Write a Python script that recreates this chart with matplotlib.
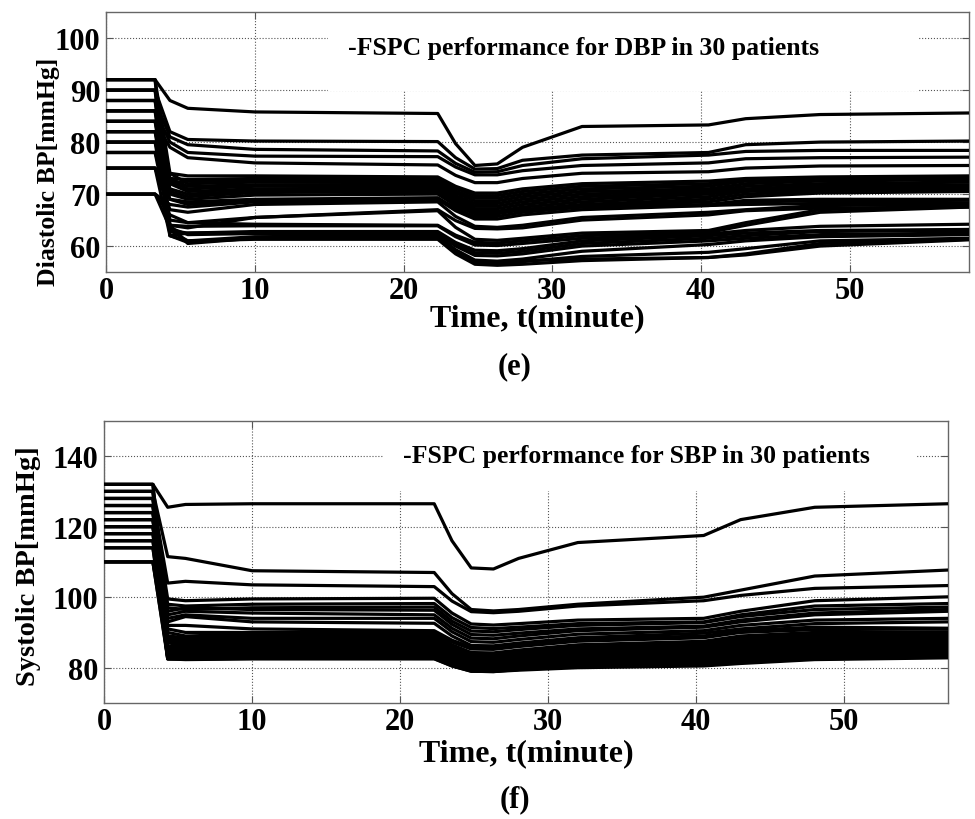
import numpy as np
import matplotlib.pyplot as plt
from matplotlib.patches import Rectangle

plt.rcParams['font.family'] = ['Liberation Serif', 'DejaVu Serif']
plt.rcParams['font.weight'] = 'bold'

# knot times (minutes) shared by every patient curve; the last point is the end of the run
knot_times = [0, 3.3, 4.3, 5.5, 10, 22.3, 23.5, 24.8, 26.3, 28, 32, 40.5, 43, 48]
dbp_end_time = 58
sbp_end_time = 57

# Diastolic BP read at each knot, 30 patients
dbp_start = [92, 90, 88, 86, 84, 82, 80, 78, 92, 90, 88, 86, 84, 82, 80, 75, 78, 70, 75, 70, 78, 84, 82, 80, 75, 70, 90, 92, 86, 88]
dbp_t4 = [88, 82, 81, 80, 79, 74, 73, 72, 74, 73, 72.5, 72, 71, 70.5, 70, 69, 69, 68, 67, 66, 64, 65, 64, 63, 62, 63.5, 62, 62, 63, 64]
dbp_t5 = [86.5, 80.5, 79.5, 78, 77, 73.5, 72.8, 72.5, 72, 71.5, 71, 70.5, 70, 69.5, 69, 68.5, 68, 67.5, 66.5, 64.5, 63.5, 64.5, 63.8, 62.5, 62.5, 62.2, 61, 60.7, 61, 60.5]
dbp_t10 = [85.8, 80.2, 78.6, 77.3, 76, 73.5, 73, 72.6, 72.3, 71.8, 71.5, 71, 70.6, 70.3, 69.8, 69, 68.8, 68.5, 68, 65.5, 65.5, 64.2, 63.9, 62.8, 62.6, 62.4, 61.8, 61.5, 61.3, 61.5]
dbp_t22 = [85.5, 80.1, 78.3, 77.2, 75.6, 73.3, 73, 72.6, 72.2, 71.8, 71.5, 71.2, 70.8, 70.5, 70, 69.3, 69, 68.8, 68.5, 67, 66.8, 64, 63.9, 62.8, 62.6, 62.4, 62, 61.5, 61.3, 61.6]
dbp_t23 = [79.7, 77, 75.9, 75.2, 73.6, 71.5, 71.1, 70.6, 70.2, 69.7, 69.3, 68.9, 68.4, 68.3, 67.8, 67.2, 66.8, 67.5, 65.7, 64.9, 63.6, 62.1, 61.8, 60.7, 60.3, 60, 59.3, 58.8, 58.5, 59]
dbp_t24 = [75.5, 74.8, 74.2, 73.7, 72.2, 70.2, 69.7, 69.2, 68.7, 68.2, 67.7, 67.2, 66.7, 66.7, 66.2, 65.7, 65.2, 66.6, 63.8, 63.4, 61.3, 60.7, 60.2, 59.2, 58.7, 58.2, 57.3, 56.8, 56.5, 57]
dbp_t26 = [75.8, 74.9, 74.3, 73.7, 72.2, 70.2, 69.7, 69.2, 68.7, 68.2, 67.7, 67.2, 66.7, 66.6, 66.2, 65.7, 65.2, 66.6, 63.6, 63.3, 61.1, 60.6, 60.1, 59.1, 58.6, 58.1, 57.1, 56.6, 56.3, 56.9]
dbp_t28 = [79, 76.5, 75.5, 74.5, 73, 71, 70.5, 70, 69.5, 69, 68.5, 68, 67.5, 67, 67, 66.5, 66, 67, 64, 63.5, 61.5, 61, 60.5, 59.5, 59, 58.5, 57.5, 57, 56.5, 57.2]
dbp_t32 = [83, 77.5, 76.8, 75.5, 74, 72, 71.5, 71, 70.5, 70, 69.5, 69, 68.5, 68, 67.8, 67.5, 67, 67.5, 65.5, 65, 62.5, 62, 61.5, 61, 60.5, 60, 59, 58, 57.2, 57.5]
dbp_t40 = [83.3, 78, 77.5, 76, 74.3, 72.5, 72, 71.5, 71, 70.6, 70.3, 70, 69.5, 69, 68.5, 68, 67.8, 67.8, 66.5, 66, 63, 62.6, 62.3, 62, 61.5, 61, 60.3, 58.8, 57.8, 57.8]
dbp_t43 = [84.5, 79.5, 78.2, 76.8, 75, 73, 72.7, 72.5, 72, 71.5, 71, 70.8, 70.5, 70, 69.5, 68.8, 68.5, 68, 67, 66.8, 64.5, 64, 63, 62.5, 62, 61.5, 61, 59.5, 58.5, 58.3]
dbp_t48 = [85.3, 80, 78.4, 77, 75.4, 73.3, 73, 72.8, 72.5, 72, 71.6, 71.2, 71, 70.6, 70.2, 69, 68.7, 68.2, 67.8, 67.3, 67, 66.5, 63.8, 63, 62.8, 62.2, 61.8, 61, 60.5, 60]
dbp_final = [85.6, 80.2, 78.4, 77.1, 75.5, 73.5, 73.2, 73, 72.8, 72.3, 71.8, 71.5, 71.2, 70.8, 70.5, 69, 68.8, 68.3, 68, 67.5, 67.8, 67.5, 64.2, 63.2, 63, 62.5, 62.2, 61.5, 61.3, 61.2]

# Systolic BP read at each knot, 30 patients
sbp_start = [132, 130, 128, 126, 124, 122, 120, 132, 130, 128, 126, 124, 122, 120, 118, 116, 114, 110, 132, 130, 128, 126, 124, 122, 120, 118, 116, 114, 110, 110]
sbp_t4 = [125.5, 111.5, 104, 99.5, 98, 97, 96, 95, 94, 93, 92, 91, 90, 89, 88.5, 88, 87.5, 87, 86, 85.5, 85, 84.5, 84, 83.5, 83, 83, 82.5, 82.5, 82.5, 83]
sbp_t5 = [126.3, 111, 104.5, 99, 97.5, 96.5, 97, 96, 95, 94.5, 92, 90, 89, 88.5, 88, 87.5, 87, 86.5, 86, 85.5, 85, 84.5, 84, 83.5, 83, 82.8, 82.5, 82.5, 82.3, 83]
sbp_t10 = [126.5, 107.5, 103.5, 99.5, 98, 97, 96.5, 95.5, 94, 93, 91, 90, 89.5, 89, 88.5, 88, 87.5, 87, 86.5, 86, 85.5, 85, 84.5, 84, 83.5, 83, 82.7, 82.6, 82.5, 83.5]
sbp_t22 = [126.5, 107, 103, 99.7, 98.2, 97.2, 96.3, 95, 94, 92.6, 90.5, 90, 89.5, 89, 88.7, 88.3, 87.8, 87.3, 86.8, 86.2, 85.7, 85, 84.5, 84, 83.6, 83.2, 82.8, 82.6, 82.5, 84]
sbp_t23 = [116, 101, 98.9, 95.5, 94.2, 93.2, 92.3, 91.2, 90.2, 89, 87.8, 87.3, 86.5, 86, 85.6, 85.1, 84.6, 84.1, 83.6, 83.1, 82.6, 82, 81.8, 81.3, 81.1, 80.9, 80.7, 80.5, 80.5, 81.5]
sbp_t24 = [108.3, 96.5, 95.9, 92.4, 91.4, 90.4, 89.4, 88.4, 87.4, 86.3, 85.8, 85.3, 84.3, 83.8, 83.3, 82.8, 82.3, 81.8, 81.3, 80.8, 80.3, 79.8, 79.8, 79.3, 79.2, 79.2, 79.2, 79, 79, 79.7]
sbp_t26 = [108, 96.1, 95.6, 92.1, 91.1, 90.2, 89.2, 88.2, 87.2, 86.2, 85.7, 85.2, 84.2, 83.7, 83.2, 82.7, 82.2, 81.7, 81.2, 80.7, 80.2, 79.7, 79.7, 79.2, 79.2, 79.1, 79.1, 78.9, 78.9, 79.6]
sbp_t28 = [111, 96.5, 96, 92.5, 91.5, 90.8, 89.8, 89, 88, 87, 86.5, 86, 85, 84.5, 84, 83.5, 83, 82.5, 82, 81.5, 81, 80.5, 80.5, 80, 79.8, 79.5, 79.5, 79.5, 79.3, 80]
sbp_t32 = [115.5, 98, 97.5, 93.5, 92.5, 92, 91, 90.5, 89.5, 88.5, 88, 87.5, 86.5, 86, 85.5, 85, 84.5, 84, 83.5, 83, 82.5, 82, 81.5, 81, 80.8, 80.5, 80.3, 80.5, 80, 81]
sbp_t40 = [117.5, 100, 99, 94, 93, 92.8, 91.8, 91.5, 90.5, 89.8, 89, 88.5, 87.5, 87, 86.5, 86, 85.5, 85, 84.5, 84, 83.5, 83, 82.5, 82, 81.5, 81, 80.8, 81, 80.5, 81.5]
sbp_t43 = [122, 102, 100.5, 96, 95, 94.5, 93.5, 93, 92, 91, 90.5, 90, 89, 88.5, 88, 87.5, 87, 86.5, 86, 85.5, 85, 84.5, 84, 83.5, 83, 82.5, 82, 81.5, 81.2, 82.5]
sbp_t48 = [125.5, 106, 102.5, 99, 97.5, 96.5, 95.5, 95, 93.5, 92.5, 91.5, 90.8, 90, 89.5, 89, 88.5, 88, 87.5, 87, 86.5, 86, 85.5, 85, 84.5, 84, 83.5, 83, 82.5, 82.3, 83.5]
sbp_final = [126.5, 107.7, 103.3, 100.1, 98.2, 97.2, 96.5, 96, 94, 93, 91.2, 91, 90.2, 89.8, 89.3, 88.8, 88.3, 87.8, 87.2, 86.7, 86.2, 85.7, 85.2, 84.6, 84, 83.5, 83.2, 83, 82.8, 84]

dbp_cols = [dbp_start, dbp_start, dbp_t4, dbp_t5, dbp_t10, dbp_t22, dbp_t23, dbp_t24, dbp_t26,
            dbp_t28, dbp_t32, dbp_t40, dbp_t43, dbp_t48, dbp_final]
sbp_cols = [sbp_start, sbp_start, sbp_t4, sbp_t5, sbp_t10, sbp_t22, sbp_t23, sbp_t24, sbp_t26,
            sbp_t28, sbp_t32, sbp_t40, sbp_t43, sbp_t48, sbp_final]


def draw_panel(ax, cols, t_end, ylim, yticks, ylabel, legend_text, box, text_xy, ylabel_xy, xlabel_y):
    times = knot_times + [t_end]
    vals = np.array(cols)
    for i in range(vals.shape[1]):
        ax.plot(times, vals[:, i], color='black', lw=2.3, solid_joinstyle='round', zorder=3)
    ax.set_xlim(0, t_end)
    ax.set_ylim(*ylim)
    ax.set_xticks([0, 10, 20, 30, 40, 50])
    ax.set_yticks(yticks)
    ax.grid(True, linestyle=':', color='#555555', lw=0.8)
    ax.tick_params(direction='in', top=True, right=True, length=5, width=0.8,
                   color='#555555', labelsize=22)
    ax.tick_params(axis='x', pad=3)
    ax.tick_params(axis='y', pad=4)
    for sp in ax.spines.values():
        sp.set_color('#666666')
        sp.set_linewidth(1.0)
    # white area behind the legend text hides the grid there
    ax.add_patch(Rectangle((box[0], box[1]), box[2] - box[0], 1.0 - box[1],
                           transform=ax.transAxes, facecolor='white',
                           edgecolor='none', zorder=2))
    ax.text(text_xy[0], text_xy[1], legend_text, transform=ax.transAxes,
            fontsize=18.5, fontweight='bold', ha='left', va='center', zorder=4)
    ax.set_xlabel('Time, t(minute)', fontsize=23, fontweight='bold', va='center')
    ax.xaxis.set_label_coords(0.5, xlabel_y)
    ax.set_ylabel(ylabel, fontsize=ylabel_xy[2], fontweight='bold', va='center')
    ax.yaxis.set_label_coords(ylabel_xy[0], ylabel_xy[1])


fig = plt.figure(figsize=(9.75, 8.2), dpi=100)

ax1 = fig.add_axes([0.1087, 0.667, 0.885, 0.317])
draw_panel(ax1, dbp_cols, dbp_end_time, (55, 105), [60, 70, 80, 90, 100],
           'Diastolic BP[mmHg]', '-FSPC performance for DBP in 30 patients',
           (0.257, 0.696, 0.941), (0.28, 0.865), (-0.067, 0.388, 18.5), -0.175)

ax2 = fig.add_axes([0.1067, 0.1415, 0.8656, 0.344])
draw_panel(ax2, sbp_cols, sbp_end_time, (70, 150), [80, 100, 120, 140],
           'Systolic BP[mmHg]', '-FSPC performance for SBP in 30 patients',
           (0.331, 0.752, 0.963), (0.354, 0.876), (-0.089, 0.489, 20.5), -0.175)

fig.text(0.528, 1 - 367 / 820, '(e)', fontsize=22, fontweight='bold', ha='center', va='center')
fig.text(0.528, 1 - 800 / 820, '(f)', fontsize=22, fontweight='bold', ha='center', va='center')

fig.savefig('out.png', dpi=100)
